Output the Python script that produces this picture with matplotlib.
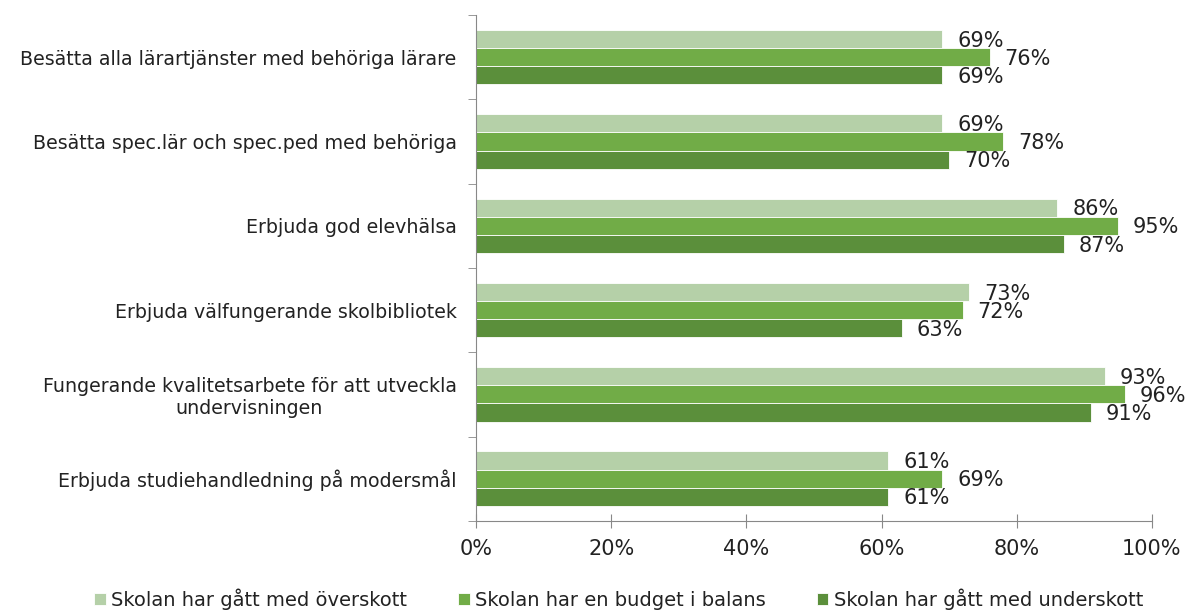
import numpy as np
import matplotlib.pyplot as plt

kategorier = [
    "Besätta alla lärartjänster med behöriga lärare",
    "Besätta spec.lär och spec.ped med behöriga",
    "Erbjuda god elevhälsa",
    "Erbjuda välfungerande skolbibliotek",
    "Fungerande kvalitetsarbete för att utveckla\nundervisningen",
    "Erbjuda studiehandledning på modersmål",
]
overskott = [69, 69, 86, 73, 93, 61]
balans = [76, 78, 95, 72, 96, 69]
underskott = [69, 70, 87, 63, 91, 61]
serier = [
    ("Skolan har gått med överskott", overskott, "#b5d0a8"),
    ("Skolan har en budget i balans", balans, "#71ac47"),
    ("Skolan har gått med underskott", underskott, "#5b8f3b"),
]

plt.rcParams['font.family'] = ['DejaVu Sans']
textfarg = "#222222"

fig = plt.figure(figsize=(11.9, 6.12), dpi=100)
ax = fig.add_axes([0.4, 0.149, 0.568, 0.8265])

y = np.arange(len(kategorier))
h = 0.215
for i, (namn, vals, farg) in enumerate(serier):
    pos = y + (i - 1) * h
    bars = ax.barh(pos, vals, height=h, color=farg, edgecolor="white",
                   linewidth=0.6, label=namn)
    for b, v in zip(bars, vals):
        ax.text(v + 2.2, b.get_y() + b.get_height() / 2 + 0.02, f"{v}%",
                va="center", ha="left", fontsize=15, color=textfarg)

ax.set_xlim(0, 100)
ax.set_ylim(len(kategorier) - 0.5, -0.5)
ax.set_xticks(range(0, 101, 20))
ax.set_xticklabels([f"{t}%" for t in range(0, 101, 20)], fontsize=15,
                   color=textfarg)
ax.set_yticks(y)
ax.set_yticklabels(kategorier, fontsize=13.7, color=textfarg,
                   multialignment="center")
ax.tick_params(axis="y", length=0, pad=14)
ax.set_yticks(np.arange(-0.5, len(kategorier)), minor=True)
ax.tick_params(axis="y", which="minor", length=6, color="#888888", direction="out")
ax.tick_params(axis="x", length=10, direction="inout", color="#888888", pad=8)

for s in ["top", "right"]:
    ax.spines[s].set_visible(False)
for s in ["left", "bottom"]:
    ax.spines[s].set_color("#888888")

leg = fig.legend(loc="lower center", ncol=3, frameon=False, fontsize=14,
                 handlelength=0.6, handleheight=0.6, handletextpad=0.3,
                 columnspacing=2.6, bbox_to_anchor=(0.52, -0.025))
for t in leg.get_texts():
    t.set_color(textfarg)

fig.savefig("out.png", dpi=100)
